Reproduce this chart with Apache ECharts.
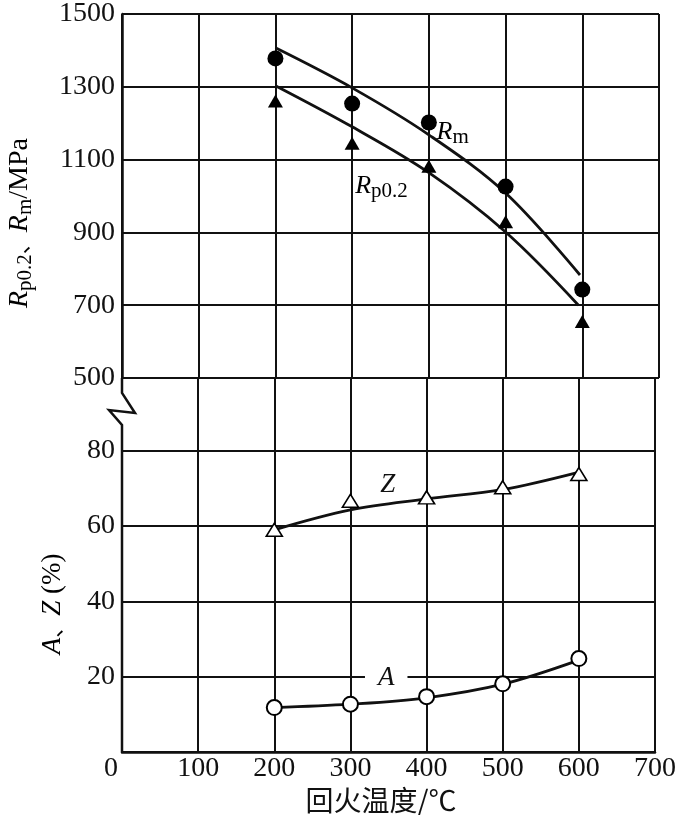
<!DOCTYPE html>
<html><head><meta charset="utf-8">
<script src="https://cdn.jsdelivr.net/npm/echarts@6/dist/echarts.min.js"></script>
<style>html,body{margin:0;padding:0;background:#fff}#c{width:679px;height:815px}</style>
</head><body><div id="c"></div>
<script>
// ---- data ----
const temps = [200, 300, 400, 500, 600];
const rmPoints = [1378, 1254, 1202, 1026, 743];
const rpPoints = [1261, 1145, 1082, 929, 655];
const rmCurveX = [200, 300, 400, 500, 597];
const rmCurveY = [1407, 1297, 1168, 1008, 783];
const rpCurveX = [200, 300, 400, 500, 595];
const rpCurveY = [1303, 1190, 1064, 901, 700];
const zPoints = [59, 66.7, 67.6, 70.3, 73.8];
const zCurveX = [200, 300, 400, 500, 598];
const zCurveY = [59, 64.3, 67.2, 69.7, 74.2];
const aPoints = [11.8, 12.7, 14.7, 18.1, 24.8];
const aCurveX = [200, 300, 400, 500, 600];
const aCurveY = [11.8, 12.7, 14.4, 18.0, 24.4];
const xTicks = [0, 100, 200, 300, 400, 500, 600, 700];
const mpaTicks = [500, 700, 900, 1100, 1300, 1500];
const pctTicks = [0, 20, 40, 60, 80];

const zip = (a, b) => a.map((v, i) => [v, b[i]]);
const SERIF = "'Liberation Serif','Noto Sans CJK SC',serif";
const INK = '#111';
const lbl = { fontFamily: SERIF, fontSize: 28, color: INK };
const gridLine = { show: true, lineStyle: { color: INK, width: 2 } };

const chart = echarts.init(document.getElementById('c'), null, { renderer: 'canvas' });
const option = {
  backgroundColor: '#fff',
  animation: false,
  grid: [
    { left: 122, right: 20, top: 9, height: 369 },
    { left: 122, right: 20, top: 378, height: 374 }
  ],
  xAxis: [
    { gridIndex: 0, type: 'value', min: xTicks[0], max: xTicks[xTicks.length - 1], interval: 100,
      axisLine: { show: false }, axisTick: { show: false }, axisLabel: { show: false },
      splitLine: gridLine },
    { gridIndex: 1, type: 'value', min: xTicks[0], max: xTicks[xTicks.length - 1], interval: 100,
      axisLine: { show: true, onZero: false, lineStyle: { color: INK, width: 2.5 } },
      axisTick: { show: false },
      axisLabel: Object.assign({}, lbl, { margin: 3,
        formatter: v => v === 0 ? '{z|0}' : String(v),
        rich: { z: { fontFamily: SERIF, fontSize: 28, color: INK, padding: [0, 22, 0, 0] } } }),
      splitLine: Object.assign({}, gridLine, { showMinLine: false }) }
  ],
  yAxis: [
    { gridIndex: 0, type: 'value', min: mpaTicks[0], max: mpaTicks[mpaTicks.length - 1], interval: 200,
      axisLine: { show: true, lineStyle: { color: INK, width: 2.5 } }, axisTick: { show: false },
      axisLabel: Object.assign({}, lbl, { margin: 7, formatter: v => String(v) }),
      splitLine: gridLine },
    { gridIndex: 1, type: 'value', min: pctTicks[0], max: 99.3, interval: 20,
      axisLine: { show: false }, axisTick: { show: false },
      axisLabel: Object.assign({}, lbl, { margin: 7,
        formatter: v => (pctTicks.indexOf(v) > 0 ? String(v) : '') }),
      splitLine: Object.assign({}, gridLine, { showMaxLine: false }) }
  ],
  series: [
    { type: 'line', xAxisIndex: 0, yAxisIndex: 0, data: zip(rmCurveX, rmCurveY), smooth: 0.35,
      showSymbol: false, lineStyle: { color: INK, width: 2.8 }, z: 3 },
    { type: 'line', xAxisIndex: 0, yAxisIndex: 0, data: zip(rpCurveX, rpCurveY), smooth: 0.35,
      showSymbol: false, lineStyle: { color: INK, width: 2.8 }, z: 3 },
    { type: 'scatter', xAxisIndex: 0, yAxisIndex: 0, data: zip(temps, rmPoints), symbol: 'circle',
      symbolSize: 16, itemStyle: { color: '#000', opacity: 1 }, z: 5 },
    { type: 'scatter', xAxisIndex: 0, yAxisIndex: 0, data: zip(temps, rpPoints), symbol: 'triangle',
      symbolSize: [15, 13], itemStyle: { color: '#000', opacity: 1 }, z: 5 },
    { type: 'line', xAxisIndex: 1, yAxisIndex: 1, data: zip(zCurveX, zCurveY), smooth: 0.35,
      showSymbol: false, lineStyle: { color: INK, width: 2.8 }, z: 3 },
    { type: 'line', xAxisIndex: 1, yAxisIndex: 1, data: zip(aCurveX, aCurveY), smooth: 0.35,
      showSymbol: false, lineStyle: { color: INK, width: 2.8 }, z: 3 },
    { type: 'scatter', xAxisIndex: 1, yAxisIndex: 1, data: zip(temps, zPoints), symbol: 'triangle',
      symbolSize: [16, 13], itemStyle: { color: '#fff', borderColor: '#000', borderWidth: 1.6, opacity: 1 }, z: 5 },
    { type: 'scatter', xAxisIndex: 1, yAxisIndex: 1, data: zip(temps, aPoints), symbol: 'circle',
      symbolSize: 15, itemStyle: { color: '#fff', borderColor: '#000', borderWidth: 2, opacity: 1 }, z: 5 }
  ]
};
chart.setOption(option);

// ---- decorations positioned through the axes ----
const px = (g, x, y) => chart.convertToPixel({ gridIndex: g }, [x, y]);
const brkTop = px(0, 0, mpaTicks[0]);
const brkBot = px(1, 0, pctTicks[0]);
const bx = brkTop[0], by = brkTop[1];
const breakLine = [[bx, by], [bx, by + 15], [bx + 13, by + 35], [bx - 13, by + 32], [bx, by + 47], [bx, brkBot[1]]];

const it = { fontFamily: SERIF, fontStyle: 'italic', fontSize: 28, color: INK, lineHeight: 32 };
const sub = { fontFamily: SERIF, fontSize: 21, color: INK, verticalAlign: 'bottom', lineHeight: 22 };
const nrm = { fontFamily: SERIF, fontSize: 28, color: INK, lineHeight: 32 };
const comma = { fontFamily: "'Noto Sans CJK SC'", fontSize: 22, color: INK, lineHeight: 32 };

const rmPos = px(0, 410, 1175);
const rpPos = px(0, 304, 1028);
const zPos = px(1, 349, 70.9);
const aPos = px(1, 347, 19.6);

chart.setOption({
  graphic: [
    { type: 'polyline', shape: { points: breakLine }, style: { stroke: INK, lineWidth: 2.5, fill: null }, z: 10 },
    { type: 'text', x: 20, y: 223, rotation: Math.PI / 2,
      style: { text: '{i|R}{s|p0.2}{c|、}{i|R}{s|m}{n|/MPa}', align: 'center', verticalAlign: 'middle',
        rich: { i: it, s: sub, n: nrm, c: comma } } },
    { type: 'text', x: 53, y: 604, rotation: Math.PI / 2,
      style: { text: '{i|A}{c|、}{i|Z}{n| (%)}', align: 'center', verticalAlign: 'middle',
        rich: { i: Object.assign({}, it, { fontSize: 27 }), n: Object.assign({}, nrm, { fontSize: 27 }), c: comma } } },
    { type: 'text', x: 381, y: 800,
      style: { text: '回火温度/℃', font: "28px 'Noto Sans CJK SC'", fill: INK, align: 'center', verticalAlign: 'middle' } },
    { type: 'text', x: rmPos[0], y: rmPos[1], z: 20,
      style: { text: '{i|R}{s|m}', align: 'left', verticalAlign: 'middle',
        rich: { i: Object.assign({}, it, { fontSize: 26 }), s: sub } } },
    { type: 'text', x: rpPos[0], y: rpPos[1], z: 20,
      style: { text: '{i|R}{s|p0.2}', align: 'left', verticalAlign: 'middle',
        rich: { i: Object.assign({}, it, { fontSize: 26 }), s: sub } } },
    { type: 'text', x: zPos[0], y: zPos[1], z: 20,
      style: { text: 'Z', font: "italic 27px 'Liberation Serif'", fill: INK, align: 'center', verticalAlign: 'middle' } },
    { type: 'text', x: aPos[0], y: aPos[1], z: 20,
      style: { text: 'A', font: "italic 27px 'Liberation Serif'", fill: INK, align: 'center', verticalAlign: 'middle',
        backgroundColor: '#fff', padding: [2, 13, 2, 13] } }
  ]
});
</script>
</body></html>
